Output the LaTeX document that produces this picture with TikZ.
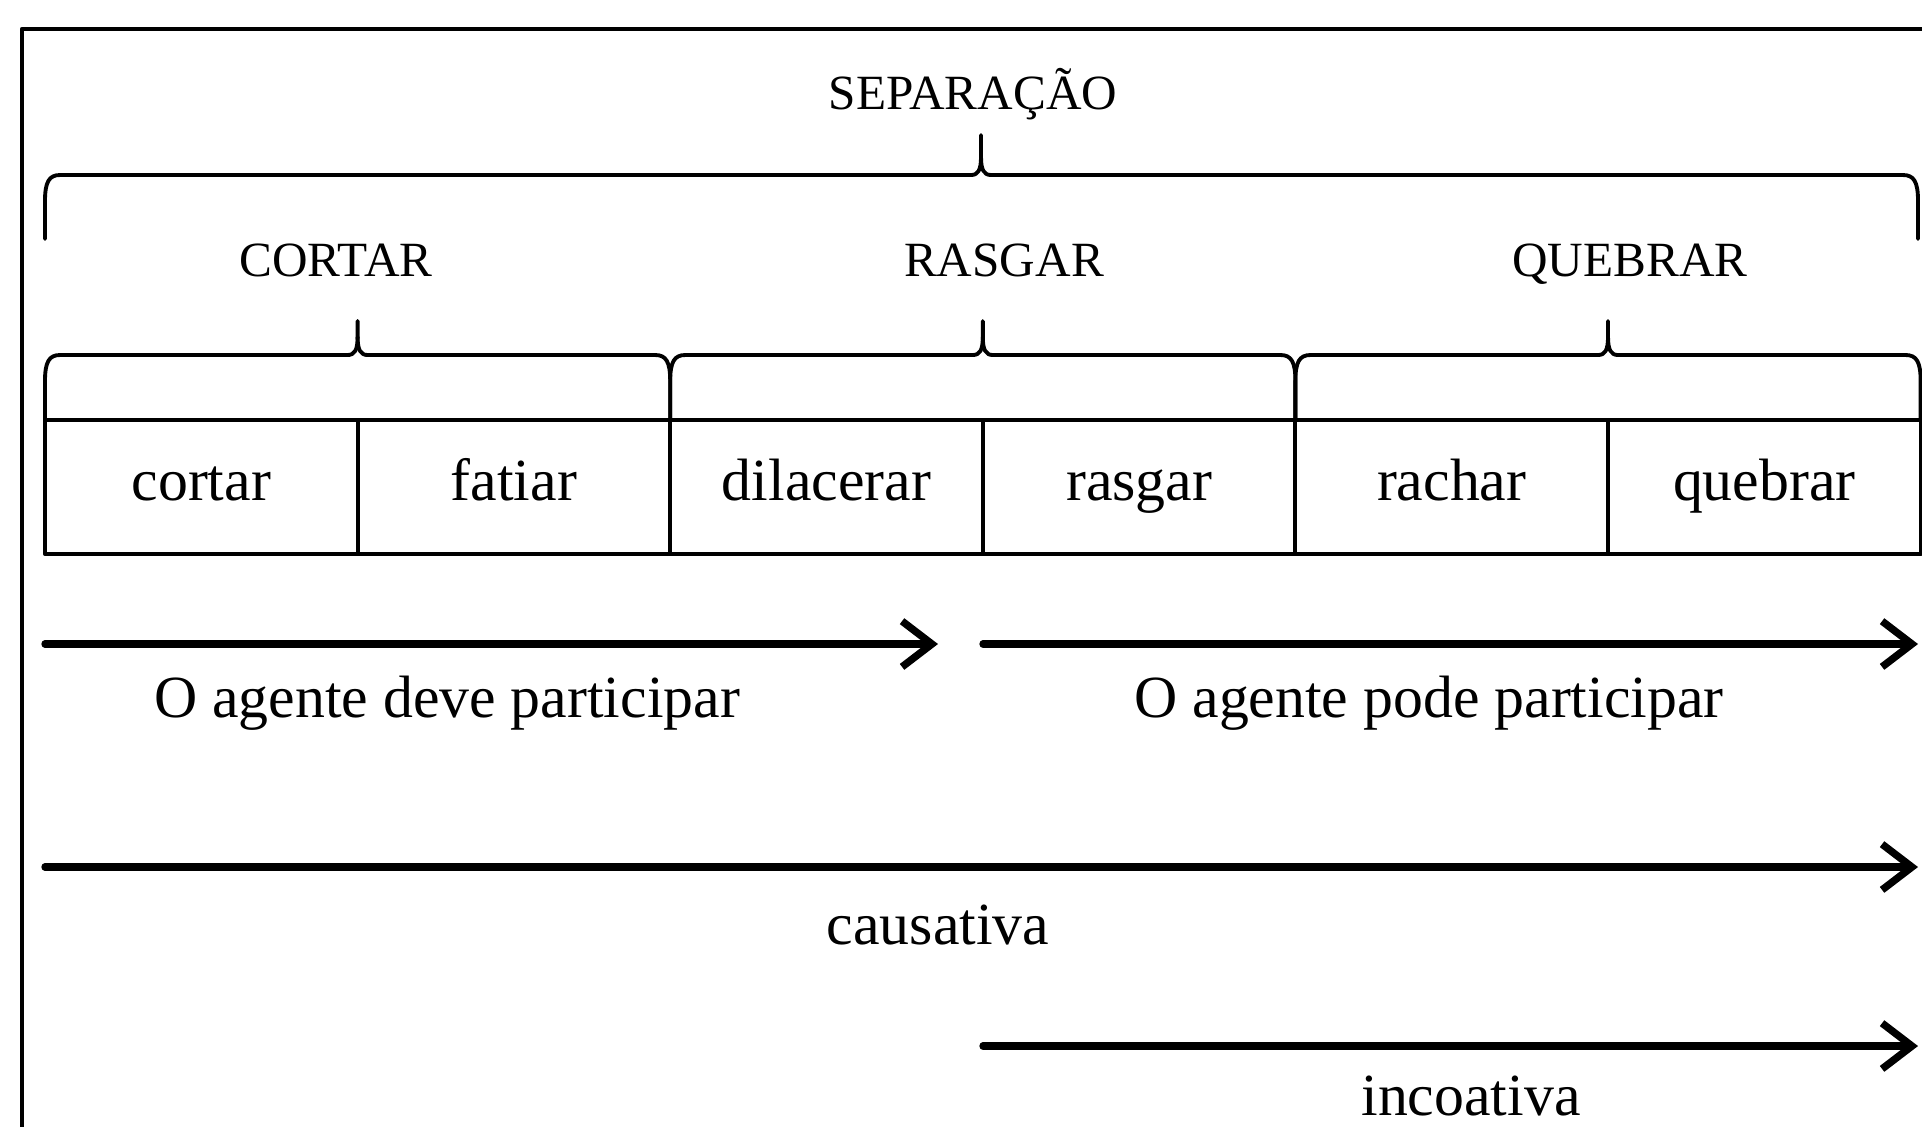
\documentclass[tikz,border=0pt]{standalone}
\usepackage{fontspec}
\setmainfont{Liberation Serif}
\usetikzlibrary{arrows.meta}
\tikzset{
	cell/.style={draw, line width=1.1pt, minimum width=3.126cm, minimum height=1.34cm, inner sep=0pt, outer sep=0pt, text height=12pt, text depth=4.6pt, font=\fontsize{17}{20}\selectfont},
	rotulo/.style={font=\fontsize{14}{16}\selectfont, inner sep=0pt, anchor=base},
	lbl/.style={font=\fontsize{17}{20}\selectfont, inner sep=1pt},
	seta/.style={line width=2.1pt, -{Straight Barb[length=8.5pt,width=13pt]}},
	chave/.style={line width=1.1pt}
}
% #1 esq, #2 dir, #3 ponta, #4 barra, #5 topo, #6 pe
\newcommand{\desenhachave}[6]{%
	\draw[chave] (#1,#6) -- (#1,#4+26) .. controls (#1,#4+7) and (#1+4,#4) .. (#1+15,#4)
	-- (#3-10,#4) .. controls (#3-3,#4) and (#3,#4-5) .. (#3,#4-18) -- (#3,#5);
	\draw[chave] (#3,#4-18) .. controls (#3,#4-5) and (#3+3,#4) .. (#3+10,#4)
	-- (#2-15,#4) .. controls (#2-4,#4) and (#2,#4+7) .. (#2,#4+26) -- (#2,#6);
}
\begin{document}
\begin{tikzpicture}[x=0.01cm, y=-0.01cm, line join=round, line cap=round]
	\def\xa{45} \def\cw{312.6} \def\ym{487} % celulas
	\useasboundingbox (0,0) rectangle (1922,1126);
	\draw[line width=1.3pt] (22,29) rectangle (1970,1170);
	\foreach \w [count=\i] in {cortar,fatiar,dilacerar,rasgar,rachar,quebrar}
		\node[cell] (c\i) at ({\xa+(\i-0.5)*\cw},\ym) {\w};
	% chaves
	\desenhachave{45}{1918}{981}{175}{135}{239}
	\desenhachave{45}{670.2}{357.6}{355}{321}{420}
	\desenhachave{670.2}{1295.4}{982.8}{355}{321}{420}
	\desenhachave{1295.4}{1920.6}{1608}{355}{321}{420}
	\node[rotulo] (SEP) at (973,109) {SEPARAÇÃO};
	\node[rotulo] (CORT) at (336,276) {CORTAR};
	\node[rotulo] (RASG) at (1004,276) {RASGAR};
	\node[rotulo] (QUEB) at (1630,276) {QUEBRAR};
	% setas
	\coordinate (a1) at (45,644); \coordinate (b1) at (938,644);
	\coordinate (a2) at (983,644); \coordinate (b2) at (1918,644);
	\coordinate (a3) at (45,867); \coordinate (b3) at (1918,867);
	\coordinate (a4) at (983,1046); \coordinate (b4) at (1918,1046);
	\foreach \i in {1,...,4} \draw[seta] (a\i)--(b\i);
	\node[lbl] (DEVE) at (447,703) {O agente deve participar};
	\node[lbl] (PODE) at (1429,703) {O agente pode participar};
	\node[lbl] (CAUS) at (938,925) {causativa};
	\node[lbl] (INCO) at (1471,1096) {incoativa};
\end{tikzpicture}
\end{document}
